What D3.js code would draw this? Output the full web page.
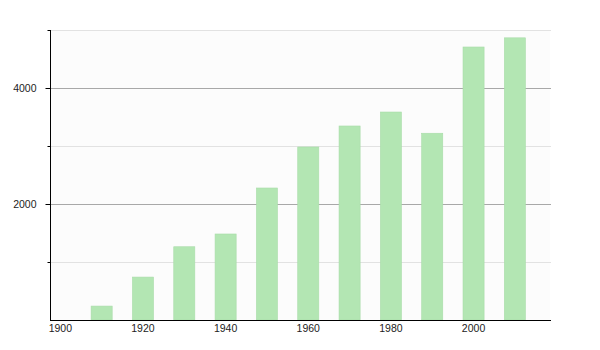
<!DOCTYPE html>
<html>
<head>
<meta charset="utf-8">
<script src="https://cdn.jsdelivr.net/npm/d3@7"></script>
<style>
    body { margin: 0; background: #fff; }
    text { font-family: "Liberation Sans", Arial, sans-serif; font-size: 10.5px; fill: #222; }
</style>
</head>
<body>
<svg id="svg_main"></svg>
<script>
// census years and population
const years = [1910, 1920, 1930, 1940, 1950, 1960, 1970, 1980, 1990, 2000, 2010];
const population = [240, 740, 1263, 1483, 2276, 2983, 3345, 3586, 3220, 4707, 4865];
const xTicks = [1900, 1920, 1940, 1960, 1980, 2000];
const yTicks = [1000, 2000, 3000, 4000, 5000];
const yLabels = [2000, 4000];

const width = 600, height = 350;
const margin = {left: 50, right: 50, top: 30, bottom: 30};

const svg = d3.select('#svg_main')
    .attr('width', width)
    .attr('height', height);

const x = d3.scaleLinear()
    .domain([1897.5, 2018.5])
    .range([margin.left, width - margin.right]);
const y = d3.scaleLinear()
    .domain([0, 5000])
    .range([height - margin.bottom, margin.top]);

// plot background
svg.append('rect')
    .attr('x', x.range()[0])
    .attr('y', y(5000))
    .attr('width', x.range()[1] - x.range()[0])
    .attr('height', y(0) - y(5000))
    .attr('fill', '#fcfcfc');

// grid, labelled lines darker
svg.append('g')
    .selectAll('line')
    .data(yTicks)
    .join('line')
    .attr('x1', x.range()[0])
    .attr('x2', x.range()[1] + 1)
    .attr('y1', d => Math.round(y(d)) + 0.5)
    .attr('y2', d => Math.round(y(d)) + 0.5)
    .attr('stroke', d => yLabels.includes(d) ? '#a8a8a8' : '#e2e2e2');

const data = years.map((d, i) => ({year: d, value: population[i]}));
const barW = x(1902.55) - x(1900);

svg.append('g')
    .attr('fill', '#b3e6b3')
    .attr('stroke', '#a9dca9')
    .attr('stroke-width', 0.6)
    .selectAll('rect')
    .data(data)
    .join('rect')
    .attr('x', d => x(d.year) - barW)
    .attr('y', d => y(d.value))
    .attr('width', barW * 2)
    .attr('height', d => y(0) - y(d.value));

// y axis
const yAxis = svg.append('g')
    .attr('transform', `translate(${x.range()[0] + 0.5},0)`);
yAxis.append('line')
    .attr('y1', y(5000))
    .attr('y2', y(0))
    .attr('stroke', '#000');
yAxis.selectAll('.tick')
    .data(yTicks)
    .join('line')
    .attr('class', 'tick')
    .attr('x1', d => yLabels.includes(d) ? -5 : -3)
    .attr('x2', 0)
    .attr('y1', d => Math.round(y(d)) + 0.5)
    .attr('y2', d => Math.round(y(d)) + 0.5)
    .attr('stroke', '#000');
yAxis.selectAll('text')
    .data(yLabels)
    .join('text')
    .attr('x', -14)
    .attr('y', d => y(d))
    .attr('dy', '0.35em')
    .attr('text-anchor', 'end')
    .text(d => d);

// x axis
const xAxis = svg.append('g')
    .attr('transform', `translate(0,${Math.round(y(0)) + 0.5})`);
xAxis.append('line')
    .attr('x1', x.range()[0])
    .attr('x2', x.range()[1] + 1)
    .attr('stroke', '#000');
xAxis.selectAll('text')
    .data(xTicks)
    .join('text')
    .attr('x', d => x(d))
    .attr('y', 11.5)
    .attr('text-anchor', 'middle')
    .text(d => d);
</script>
</body>
</html>
